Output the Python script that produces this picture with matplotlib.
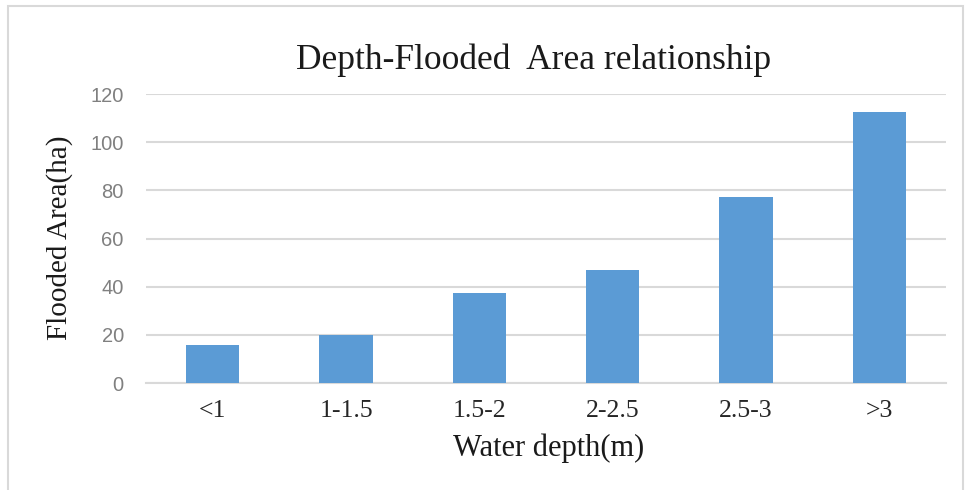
import matplotlib
matplotlib.use("Agg")
import matplotlib.pyplot as plt
from matplotlib.patches import Rectangle

# 数据
depth_classes = ["<1", "1-1.5", "1.5-2", "2-2.5", "2.5-3", ">3"]
flooded_area = [15.8, 19.9, 37.4, 46.9, 77.4, 112.4]
y_ticks = [0, 20, 40, 60, 80, 100, 120]

serif = "Liberation Serif"
bar_color = "#5B9BD5"
grid_color = "#D9D9D9"
text_color = "#1a1a1a"

W, H = 968, 490
fig = plt.figure(figsize=(W / 100, H / 100), dpi=100)
ax = fig.add_axes([146 / W, 1 - 383 / H, 800 / W, 289 / H])

# 外框
fig.patches.append(Rectangle((8 / W, -0.01), 955 / W, 1 - 6 / H + 0.01,
                             transform=fig.transFigure, fill=False,
                             edgecolor=grid_color, linewidth=1.5))

x = range(len(depth_classes))
ax.bar(x, flooded_area, width=0.4, color=bar_color, zorder=3)

ax.set_xlim(-0.5, len(depth_classes) - 0.5)
ax.set_ylim(0, 120)
ax.set_yticks(y_ticks)
ax.set_xticks(list(x))
ax.set_xticklabels(depth_classes, fontfamily=serif, fontsize=18.5, color="#262626")
for lbl in ax.get_yticklabels():
    lbl.set_fontfamily("Liberation Sans")
    lbl.set_fontsize(14.5)
    lbl.set_color("#808080")

ax.yaxis.grid(True, color=grid_color, linewidth=1.5, zorder=0)
ax.tick_params(axis="both", length=0)
ax.tick_params(axis="y", pad=16)
ax.tick_params(axis="x", pad=12)
for side in ["top", "right", "left"]:
    ax.spines[side].set_visible(False)
ax.spines["bottom"].set_color(grid_color)
ax.spines["bottom"].set_linewidth(1.5)

# 标题和坐标轴标签
fig.text(534 / W, 1 - 60 / H, "Depth-Flooded  Area relationship",
         fontfamily=serif, fontsize=25.5, color=text_color,
         ha="center", va="center")
fig.text(549 / W, 1 - 448 / H, "Water depth(m)", fontfamily=serif,
         fontsize=22, color=text_color, ha="center", va="center")
fig.text(60 / W, 1 - 238 / H, "Flooded Area(ha)", fontfamily=serif,
         fontsize=21, color=text_color, ha="center", va="center",
         rotation=90)

fig.savefig("out.png", dpi=100)
